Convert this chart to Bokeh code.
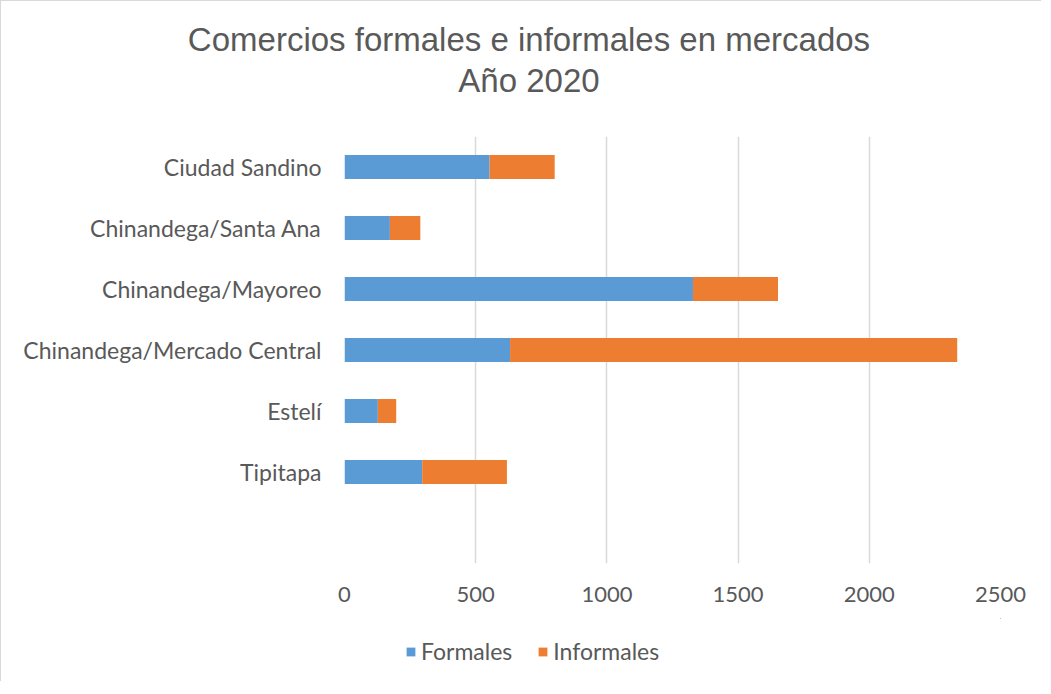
from bokeh.plotting import figure
from bokeh.layouts import column
from bokeh.models import Legend, LegendItem, FixedTicker, ColumnDataSource, Div
from bokeh.embed import file_html
from bokeh.resources import INLINE

categories = ["Ciudad Sandino", "Chinandega/Santa Ana", "Chinandega/Mayoreo",
              "Chinandega/Mercado Central", "Estelí", "Tipitapa"]
formales = [553, 173, 1328, 631, 127, 296]
informales = [248, 116, 324, 1704, 70, 323]
series = ["Formales", "Informales"]
x_ticks = [0, 500, 1000, 1500, 2000, 2500]
title_lines = ["Comercios formales e informales en mercados", "Año 2020"]

BLUE = "#5B9BD5"
ORANGE = "#ED7D31"
GREY = "#595959"
FONT = "Lato"
TFONT = "Liberation Sans"

n = len(categories)
ypos = [n + 1 - i for i in range(n)]  # top row first, one empty slot at the bottom
src = ColumnDataSource(dict(y=ypos, formales=formales, informales=informales))

# title block
title = Div(text="<br>".join(title_lines), width=1040, height=135, margin=0,
            styles={"font-family": TFONT, "font-size": "33px", "line-height": "41px",
                    "color": GREY, "text-align": "center", "padding-top": "18px",
                    "padding-left": "16px", "box-sizing": "border-box",
                    "width": "1040px"})

p = figure(width=1040, height=482, output_backend="svg", toolbar_location=None,
           x_range=(0, 2500), y_range=(0.5, n + 1.5),
           min_border_left=343, min_border_right=41, min_border_top=0,
           min_border_bottom=55)

rs = p.hbar_stack(["formales", "informales"], y="y", height=0.39, color=[BLUE, ORANGE],
                  line_color=None, source=src)

p.outline_line_color = None
p.xgrid.ticker = FixedTicker(ticks=x_ticks)
p.xgrid.grid_line_color = "#D9D9D9"
p.xgrid.grid_line_width = 1.5
p.ygrid.grid_line_color = None

p.xaxis.ticker = FixedTicker(ticks=x_ticks)
p.xaxis.axis_line_color = None
p.xaxis.major_tick_line_color = None
p.xaxis.major_tick_out = 0
p.xaxis.minor_tick_line_color = None
p.xaxis.major_label_standoff = 23
p.xaxis.major_label_text_font = FONT
p.xaxis.major_label_text_font_size = "22px"
p.xaxis.major_label_text_color = GREY

p.yaxis.ticker = FixedTicker(ticks=ypos)
p.yaxis.major_label_overrides = {y: c for y, c in zip(ypos, categories)}
p.yaxis.axis_line_color = None
p.yaxis.major_tick_line_color = None
p.yaxis.major_tick_out = 0
p.yaxis.minor_tick_line_color = None
p.yaxis.major_label_standoff = 23
p.yaxis.major_label_text_font = FONT
p.yaxis.major_label_text_font_size = "23px"
p.yaxis.major_label_text_color = GREY

# legend strip below the chart (its frame is aligned with the chart's frame);
# its view window lies away from the data so that only the legend keys show
lg = figure(width=1040, height=63, output_backend="svg", toolbar_location=None,
            x_range=(-3, -2), y_range=(-3, -2), min_border=0)
lg.axis.visible = False
lg.grid.visible = False
lg.outline_line_color = None
keys = lg.hbar_stack(["formales", "informales"], y="y", height=0.39,
                     color=[BLUE, ORANGE], line_color=None, source=src)
legend = Legend(items=[LegendItem(label=series[0], renderers=[keys[0]]),
                       LegendItem(label=series[1], renderers=[keys[1]])],
                orientation="horizontal", location=(61, 16),
                label_text_font=FONT, label_text_font_size="23px",
                label_text_color=GREY, glyph_width=11, glyph_height=11,
                spacing=25, border_line_color=None, background_fill_alpha=0,
                margin=0, padding=0, label_standoff=5)
lg.add_layout(legend, "center")

layout = column(title, p, lg, spacing=0)
layout.styles = {"border-top": "1px solid #D9D9D9", "border-left": "1px solid #D9D9D9"}

open("out.html", "w").write(file_html(layout, INLINE))
